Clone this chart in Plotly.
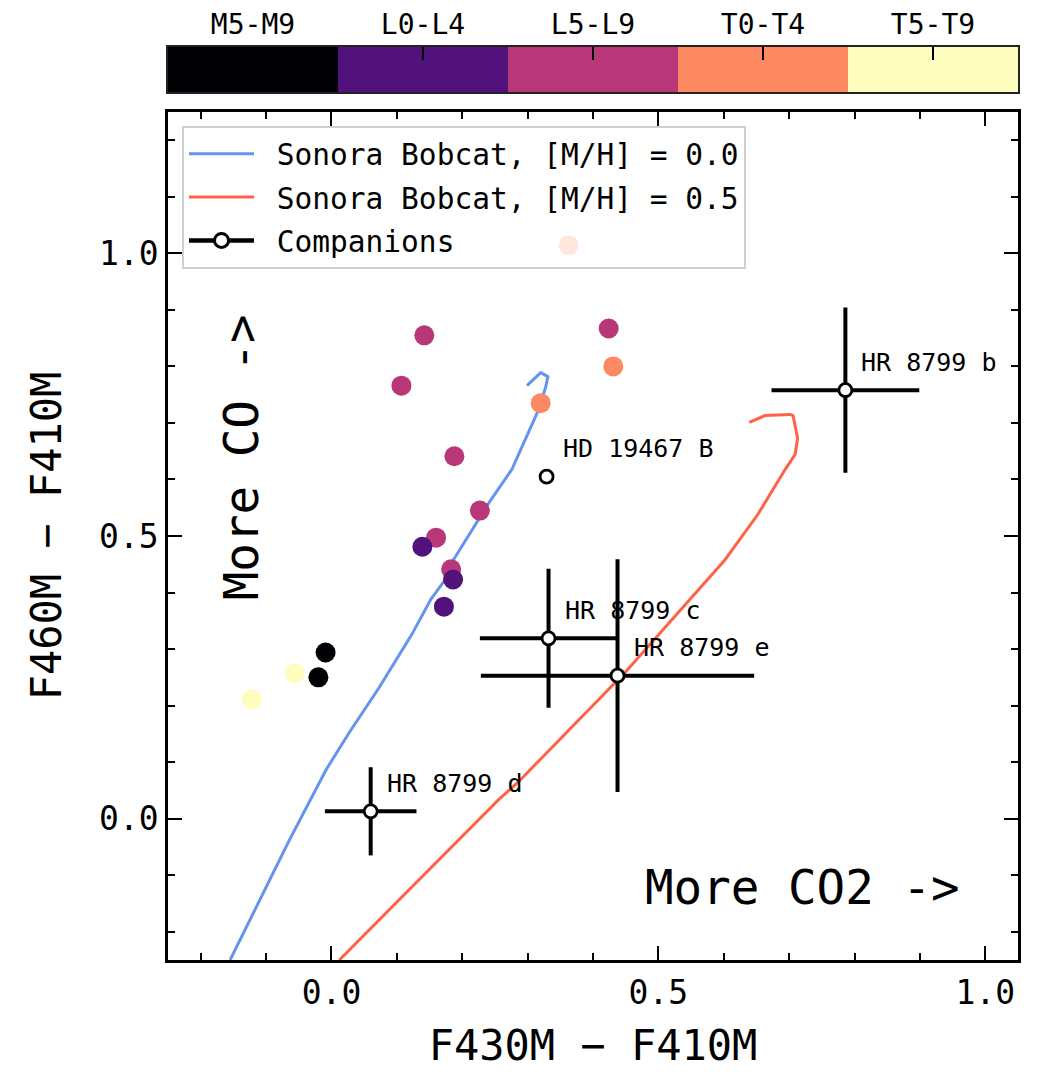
import plotly.graph_objects as go

# ---------------- data ----------------
sptype_labels = ["M5-M9", "L0-L4", "L5-L9", "T0-T4", "T5-T9"]
sptype_colors = ["#000004", "#51127c", "#b73779", "#fc8961", "#fcfdbf"]
sptype_index = [0, 1, 2, 3, 4]

# field brown dwarfs (colour index into sptype_labels)
field_x = [0.363, 0.142, 0.424, 0.431, 0.107, 0.320, 0.188, 0.227, 0.160,
           0.139, 0.183, 0.186, 0.172, -0.009, -0.020, -0.056, -0.122]
field_y = [1.014, 0.855, 0.867, 0.800, 0.766, 0.735, 0.641, 0.545, 0.497,
           0.481, 0.441, 0.423, 0.375, 0.294, 0.250, 0.257, 0.211]
field_type = [3, 2, 2, 3, 2, 3, 2, 2, 2,
              1, 2, 1, 1, 0, 0, 4, 4]

# Sonora Bobcat tracks
bobcat00_x = [-0.155, -0.064, -0.008, 0.027, 0.073, 0.123, 0.152, 0.174, 0.184,
              0.241, 0.276, 0.306, 0.317, 0.328, 0.331, 0.320, 0.299]
bobcat00_y = [-0.250, -0.037, 0.087, 0.152, 0.232, 0.326, 0.388, 0.423, 0.453,
              0.559, 0.618, 0.694, 0.724, 0.765, 0.782, 0.789, 0.766]
bobcat05_x = [0.012, 0.165, 0.256, 0.285, 0.450, 0.602, 0.652, 0.694, 0.709,
              0.713, 0.706, 0.701, 0.663, 0.639]
bobcat05_y = [-0.250, -0.073, 0.034, 0.064, 0.260, 0.458, 0.538, 0.618, 0.644,
              0.673, 0.713, 0.715, 0.713, 0.701]

# companions
comp_names = ["HR 8799 b", "HR 8799 c", "HR 8799 d", "HR 8799 e", "HD 19467 B"]
comp_x = [0.786, 0.332, 0.060, 0.4375, 0.329]
comp_y = [0.758, 0.319, 0.013, 0.253, 0.605]
comp_xerr = [0.113, 0.105, 0.070, 0.209, 0.0]
comp_yerr = [0.146, 0.123, 0.078, 0.206, 0.0]

FONT = "DejaVu Sans Mono"
NB = "\u00a0"

# discrete colour scale
cs = []
n = len(sptype_colors)
for i, c in enumerate(sptype_colors):
    cs.append([i / n, c])
    cs.append([(i + 1) / n, c])

fig = go.Figure()

# colour bar as heatmap on top
fig.add_trace(go.Heatmap(
    z=[sptype_index], x=sptype_labels, y=[0],
    coloraxis="coloraxis", xaxis="x2", yaxis="y2",
    hoverinfo="skip", showlegend=False))

fig.add_trace(go.Scatter(
    x=bobcat00_x, y=bobcat00_y, mode="lines",
    line=dict(color="#6495ED", width=3), legendgroup="g1",
    name=NB + "Sonora Bobcat, [M/H] = 0.0"))
fig.add_trace(go.Scatter(
    x=bobcat05_x, y=bobcat05_y, mode="lines",
    line=dict(color="#FF6347", width=3), legendgroup="g2",
    name=NB + "Sonora Bobcat, [M/H] = 0.5"))

fig.add_trace(go.Scatter(
    x=field_x, y=field_y, mode="markers",
    marker=dict(size=20, color=field_type, coloraxis="coloraxis", line=dict(width=0)),
    showlegend=False))

# companion error bars
fig.add_trace(go.Scatter(
    x=comp_x, y=comp_y, mode="markers",
    marker=dict(size=1, opacity=0),
    error_x=dict(type="data", array=comp_xerr, color="black", thickness=4, width=0),
    error_y=dict(type="data", array=comp_yerr, color="black", thickness=4, width=0),
    showlegend=False, hoverinfo="skip"))
# companion markers on top
fig.add_trace(go.Scatter(
    x=comp_x, y=comp_y, mode="markers",
    marker=dict(size=13, color="white", line=dict(color="black", width=2.8)),
    showlegend=False))

# legend entry for companions
fig.add_trace(go.Scatter(
    x=[None], y=[None], mode="lines+markers",
    line=dict(color="black", width=4.5), legendgroup="g3",
    marker=dict(size=14, color="white", line=dict(color="black", width=3)),
    name=NB + "Companions"))

annots = []
for nm, x, y in zip(comp_names, comp_x, comp_y):
    annots.append(dict(x=x, y=y, xref="x", yref="y", text=nm, showarrow=False,
                       xanchor="left", yanchor="middle", xshift=14, yshift=28,
                       font=dict(family=FONT, size=25, color="black")))
annots.append(dict(x=0.477, y=-0.122, xref="x", yref="y", text="More CO2 ->",
                   showarrow=False, xanchor="left", yanchor="middle",
                   font=dict(family=FONT, size=47.5, color="black")))
annots.append(dict(x=-0.137, y=0.639, xref="x", yref="y", text="More CO ->",
                   showarrow=False, textangle=-90, xanchor="center", yanchor="middle",
                   font=dict(family=FONT, size=47.5, color="black")))

axis_common = dict(showgrid=False, zeroline=False, showline=True, linecolor="black",
                   linewidth=2.5, ticks="inside", ticklen=14, tickwidth=2,
                   tickcolor="black", mirror="allticks", automargin=False,
                   tickfont=dict(family=FONT, size=33, color="black"))

# page body has an 8 px margin; figure sized so it ends at the window edge
fig.update_layout(
    width=1030, height=1066,
    margin=dict(l=160, r=20, t=39, b=114, autoexpand=False),
    plot_bgcolor="white", paper_bgcolor="white",
    font=dict(family=FONT, color="black"),
    coloraxis=dict(colorscale=cs, cmin=-0.5, cmax=4.5, showscale=False),
    xaxis=dict(domain=[0, 1], range=[-0.25, 1.05], anchor="y",
               tickvals=[0, 0.5, 1.0], ticktext=["0.0", "0.5", "1.0"],
               minor=dict(dtick=0.1, tick0=0, ticks="inside", ticklen=7.5,
                          tickwidth=1.5, tickcolor="black"),
               title=dict(text="F430M − F410M", font=dict(family=FONT, size=42),
                          standoff=20),
               ticklabelstandoff=2,
               **axis_common),
    yaxis=dict(domain=[0, 0.9288], range=[-0.25, 1.25], anchor="x",
               tickvals=[0, 0.5, 1.0], ticktext=["0.0", "0.5", "1.0"],
               minor=dict(dtick=0.1, tick0=0, ticks="inside", ticklen=7.5,
                          tickwidth=1.5, tickcolor="black"),
               title=dict(text="F460M − F410M", font=dict(family=FONT, size=42),
                          standoff=25),
               **axis_common),
    xaxis2=dict(domain=[0, 1], anchor="y2", side="top", type="category",
                showgrid=False, zeroline=False, showline=True, linecolor="#222",
                linewidth=2, mirror=True, ticks="inside", ticklen=13, tickwidth=2,
                tickcolor="black", ticklabelstandoff=0, automargin=False,
                tickfont=dict(family=FONT, size=28, color="black")),
    yaxis2=dict(domain=[0.9507, 1], anchor="x2", showticklabels=False,
                showgrid=False, zeroline=False, showline=True, linecolor="#222",
                linewidth=2, mirror=True, ticks="", automargin=False),
    legend=dict(x=0.0165, y=0.9134, xanchor="left", yanchor="top",
                bgcolor="rgba(255,255,255,0.8)", bordercolor="#d0d0d0", borderwidth=2,
                font=dict(family=FONT, size=29.5, color="black"), itemwidth=65,
                tracegroupgap=2),
    annotations=annots,
)

fig.write_html("out.html")
